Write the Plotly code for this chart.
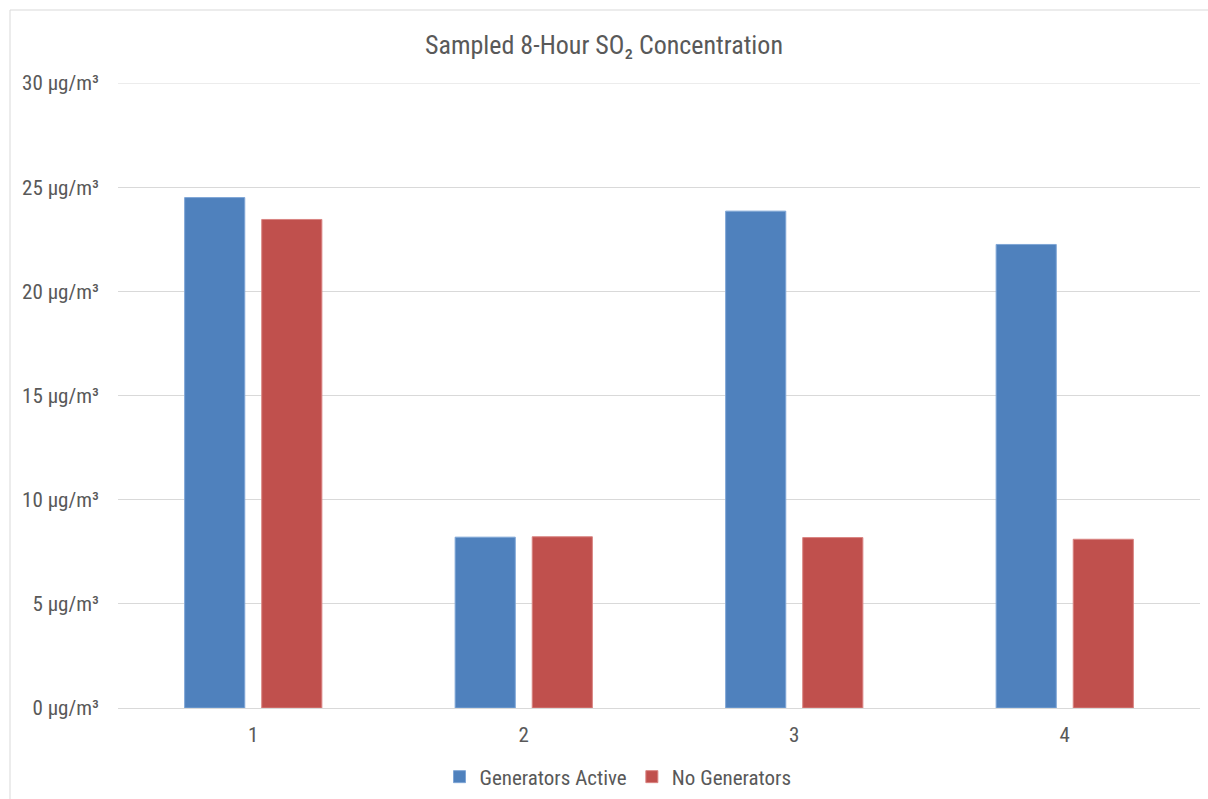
import plotly.graph_objects as go

categories = ["1", "2", "3", "4"]
generators_active = [24.5, 8.2, 23.85, 22.25]
no_generators = [23.45, 8.22, 8.18, 8.1]
y_tick_values = [0, 5, 10, 15, 20, 25, 30]
y_tick_labels = [f"{v} µg/m³" for v in y_tick_values]

FONT = "Liberation Sans Narrow, Arial Narrow, Roboto Condensed, Liberation Sans, Arial, sans-serif"
TXT = "#595959"
GRID = "#D9D9D9"

fig = go.Figure()
fig.add_trace(go.Bar(name="Generators Active", x=categories, y=generators_active,
                     marker=dict(color="#4F81BD", line=dict(color="#7FA6D6", width=1))))
fig.add_trace(go.Bar(name="No Generators", x=categories, y=no_generators,
                     marker=dict(color="#C0504D", line=dict(color="#D98482", width=1))))

L, R, T, B = 118, 8, 83, 91
W, H = 1208, 799
pw = W - L - R
ph = H - T - B

fig.update_layout(
    width=W, height=H,
    margin=dict(l=L, r=R, t=T, b=B, autoexpand=False),
    paper_bgcolor="white", plot_bgcolor="white",
    barmode="group", bargap=0.43, bargroupgap=0.22,
    font=dict(family=FONT, color=TXT, size=21),
    title=dict(text="Sampled 8-Hour SO₂ Concentration", x=0.5, xanchor="center",
               y=1 - 45 / H, yanchor="middle",
               font=dict(family=FONT, size=26, color=TXT)),
    showlegend=True,
    legend=dict(orientation="h", x=(618 - L) / pw, xanchor="center",
                y=-(777 - (H - B)) / ph, yanchor="middle",
                font=dict(family=FONT, size=21, color=TXT), itemwidth=30),
    xaxis=dict(type="category", showgrid=False, showline=True, linecolor=GRID, linewidth=1,
               ticks="", ticklabelstandoff=8,
               tickfont=dict(family=FONT, size=21, color=TXT), fixedrange=True),
    yaxis=dict(range=[0, 30], tickvals=y_tick_values, ticktext=y_tick_labels,
               showgrid=True, gridcolor=GRID, gridwidth=1, zeroline=False,
               showline=False, ticks="", ticklabelstandoff=18,
               tickfont=dict(family=FONT, size=21, color=TXT)),
)

# top gridline (plotly suppresses the grid line lying on the plot edge)
fig.add_shape(type="line", xref="paper", yref="y", x0=0, x1=1,
              y0=y_tick_values[-1], y1=y_tick_values[-1], line=dict(color=GRID, width=1))

# chart-area frame (top and left edges visible)
x_left = (10 - L) / pw
y_top = 1 + (T - 10) / ph
fig.add_shape(type="line", xref="paper", yref="paper", x0=x_left, x1=1 + R / pw + 0.01,
              y0=y_top, y1=y_top, line=dict(color=GRID, width=1))
fig.add_shape(type="line", xref="paper", yref="paper", x0=x_left, x1=x_left,
              y0=y_top, y1=-B / ph - 0.01, line=dict(color=GRID, width=1))

fig.write_html("out.html")
